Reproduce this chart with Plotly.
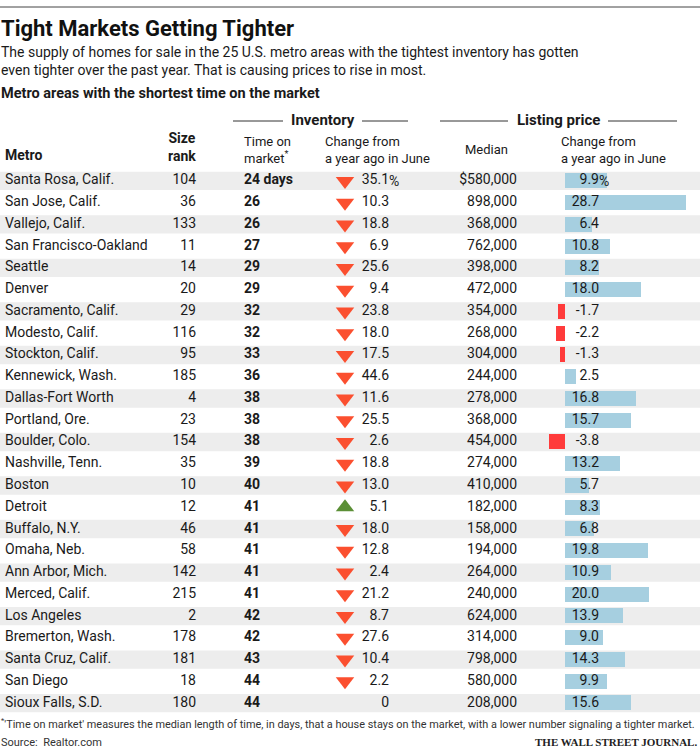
import plotly.graph_objects as go

# ---------------- data ----------------
metros = ["Santa Rosa, Calif.", "San Jose, Calif.", "Vallejo, Calif.", "San Francisco-Oakland",
          "Seattle", "Denver", "Sacramento, Calif.", "Modesto, Calif.", "Stockton, Calif.",
          "Kennewick, Wash.", "Dallas-Fort Worth", "Portland, Ore.", "Boulder, Colo.",
          "Nashville, Tenn.", "Boston", "Detroit", "Buffalo, N.Y.", "Omaha, Neb.",
          "Ann Arbor, Mich.", "Merced, Calif.", "Los Angeles", "Bremerton, Wash.",
          "Santa Cruz, Calif.", "San Diego", "Sioux Falls, S.D."]
size_rank = [104, 36, 133, 11, 14, 20, 29, 116, 95, 185, 4, 23, 154, 35, 10, 12, 46, 58,
             142, 215, 2, 178, 181, 18, 180]
days_on_market = [24, 26, 26, 27, 29, 29, 32, 32, 33, 36, 38, 38, 38, 39, 40, 41, 41, 41,
                  41, 41, 42, 42, 43, 44, 44]
inventory_change = [-35.1, -10.3, -18.8, -6.9, -25.6, -9.4, -23.8, -18.0, -17.5, -44.6,
                    -11.6, -25.5, -2.6, -18.8, -13.0, 5.1, -18.0, -12.8, -2.4, -21.2,
                    -8.7, -27.6, -10.4, -2.2, 0]
median_price = [580000, 898000, 368000, 762000, 398000, 472000, 354000, 268000, 304000,
                244000, 278000, 368000, 454000, 274000, 410000, 182000, 158000, 194000,
                264000, 240000, 624000, 314000, 798000, 580000, 208000]
price_change = [9.9, 28.7, 6.4, 10.8, 8.2, 18.0, -1.7, -2.2, -1.3, 2.5, 16.8, 15.7, -3.8,
                13.2, 5.7, 8.3, 6.8, 19.8, 10.9, 20.0, 13.9, 9.0, 14.3, 9.9, 15.6]

title = "Tight Markets Getting Tighter"
subtitle = ("The supply of homes for sale in the 25 U.S. metro areas with the tightest inventory has gotten<br>"
            "even tighter over the past year. That is causing prices to rise in most.")
chart_label = "Metro areas with the shortest time on the market"
footnote = ("<sup>*</sup>'Time on market' measures the median length of time, in days, that a house stays "
            "on the market, with a lower number signaling a tighter market.")
source = "Source:  Realtor.com"
brand = "THE WALL STREET JOURNAL."

# ---------------- layout helpers ----------------
W, H = 700, 751
FONT = "Roboto, 'Liberation Sans', sans-serif"
TXT = "#1a1a1a"
BLUE = "#a6cfe0"
RED = "#ff3b3b"
TRI_RED = "#fb4f2f"
TRI_GREEN = "#5b8f36"


def px(x):
    return x / W


def py(y):
    return 1 - y / H


row_top, row_bot = 170.1, 713.9
n = len(metros)
PX_PER_UNIT = 4.2
ZERO_X = 565

fig = go.Figure()

# Gray row bands
shapes = []
for i in range(0, n, 2):
    shapes.append(dict(type="rect", xref="paper", yref="y", x0=0, x1=1,
                       y0=i - 0.42, y1=i + 0.42, fillcolor="#ededed",
                       line=dict(width=0), layer="below"))

# bars of listing price change (base x axis, in % units)
fig.add_trace(go.Bar(
    orientation="h", x=price_change, y=metros, xaxis="x", yaxis="y",
    width=0.69, marker=dict(color=[BLUE if v >= 0 else RED for v in price_change], line=dict(width=0)),
    hoverinfo="skip", showlegend=False))


def text_col(xpos, texts, pos, bold=False):
    if bold:
        texts = [f"<b>{t}</b>" for t in texts]
    fig.add_trace(go.Scatter(x=[xpos] * len(texts), y=metros, mode="text", text=texts,
                             textposition=pos, xaxis="x2", yaxis="y",
                             textfont=dict(family=FONT, size=14, color=TXT),
                             hoverinfo="skip", showlegend=False))


text_col(5, metros, "middle right")
text_col(196, [str(v) for v in size_rank], "middle left")
text_col(244, [f"{d} days" if i == 0 else f"{d}" for i, d in enumerate(days_on_market)],
         "middle right", bold=True)

# Inventory triangles
tri_y, tri_sym, tri_col = [], [], []
for m, v in zip(metros, inventory_change):
    if v != 0:
        tri_y.append(m)
        tri_sym.append("triangle-down" if v < 0 else "triangle-up")
        tri_col.append(TRI_RED if v < 0 else TRI_GREEN)
fig.add_trace(go.Scatter(x=[345] * len(tri_y), y=tri_y, mode="markers", xaxis="x2", yaxis="y",
                         marker=dict(symbol=tri_sym, color=tri_col, size=16, line=dict(width=0)),
                         hoverinfo="skip", showlegend=False))

text_col(389, ["0" if v == 0 else f"{abs(v):.1f}" for v in inventory_change], "middle left")
text_col(517, [(f"${v:,}" if i == 0 else f"{v:,}") for i, v in enumerate(median_price)], "middle left")
text_col(599, [f"{v:.1f}" for v in price_change], "middle left")

annotations = []


def ann(text, x, y, size=14, bold=False, xanchor="left", family=FONT, color=TXT, align="left"):
    if bold:
        text = f"<b>{text}</b>"
    annotations.append(dict(text=text, x=px(x), y=py(y), xref="paper", yref="paper",
                            xanchor=xanchor, yanchor="middle", showarrow=False, align=align,
                            font=dict(family=family, size=size, color=color)))


# "%" after first values
ann("%", 387, 181)
ann("%", 597, 181)

ann(title, -1, 28, size=22, bold=True, color="#111")
ann(subtitle, -1, 61, size=14)
ann(chart_label, -1, 93, size=14.5, bold=True)

ann("Inventory", 323, 120, size=15, bold=True, xanchor="center")
ann("Listing price", 558, 120, size=15, bold=True, xanchor="center")
for x0, x1 in [(233, 283), (362, 408), (440, 508), (608, 677)]:
    shapes.append(dict(type="line", xref="paper", yref="paper", x0=px(x0), x1=px(x1),
                       y0=py(121), y1=py(121), line=dict(color="#333", width=1)))

ann("Metro", 3, 155, size=14, bold=True)
ann("Size<br>rank", 182, 147, size=14, bold=True, xanchor="center", align="center")
ann("Time on<br>market<sup>*</sup>", 242, 150, size=13)
ann("Change from<br>a year ago in June", 323, 150, size=13)
ann("Median", 486, 150, size=13, xanchor="center")
ann("Change from<br>a year ago in June", 559, 150, size=13)

ann(footnote, -1, 723, size=10.9, color="#333")
ann(source, -1, 742, size=11, color="#333")
ann(brand, 699, 742, size=11, bold=True, xanchor="right",
    family="'Liberation Serif', 'DejaVu Serif', serif", color="#222")

# Top rule
shapes.append(dict(type="line", xref="paper", yref="paper", x0=0, x1=1,
                   y0=py(7), y1=py(7), line=dict(color="#444", width=1)))

fig.update_layout(
    width=W, height=H,
    margin=dict(l=0, r=0, t=0, b=0),
    paper_bgcolor="white", plot_bgcolor="rgba(0,0,0,0)",
    showlegend=False,
    shapes=shapes, annotations=annotations,
    xaxis=dict(domain=[0, 1], range=[-ZERO_X / PX_PER_UNIT, (W - ZERO_X) / PX_PER_UNIT],
               visible=False, fixedrange=True),
    xaxis2=dict(overlaying="x", range=[0, W], visible=False, fixedrange=True),
    yaxis=dict(domain=[py(row_bot), py(row_top)], type="category",
               categoryorder="array", categoryarray=metros,
               range=[n - 0.5, -0.5], visible=False, fixedrange=True),
    bargap=0,
)

fig.write_html("out.html", config={"displayModeBar": False},
               post_script="document.body.style.margin='0';")
